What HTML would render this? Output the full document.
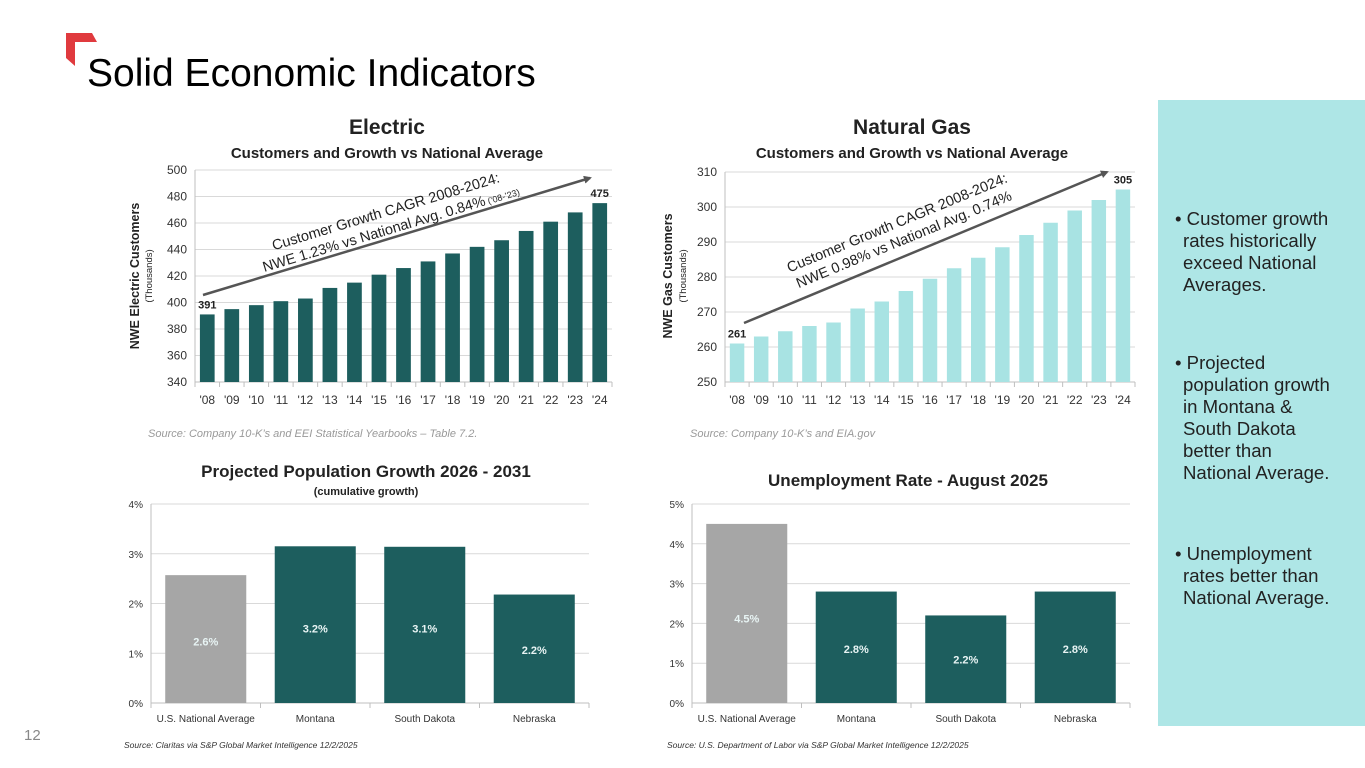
<!DOCTYPE html>
<html><head><meta charset="utf-8"><style>
html,body{margin:0;padding:0;background:#fff;}
svg{display:block;font-family:"Liberation Sans",sans-serif;}
</style></head><body>
<svg id="s" width="1365" height="768" viewBox="0 0 1365 768">
<polygon points="66,33 92,33 97,42 75,42 75,66 66,58" fill="#e03a3e"/>
<text x="87" y="86" font-size="39" fill="#000">Solid Economic Indicators</text>
<rect x="1158" y="100" width="207" height="626" fill="#aee6e6"/>
<g font-size="18.6" fill="#222">
<text x="1175" y="225"><tspan x="1175">• Customer growth</tspan><tspan x="1183" dy="22">rates historically</tspan><tspan x="1183" dy="22">exceed National</tspan><tspan x="1183" dy="22">Averages.</tspan></text>
<text x="1175" y="369"><tspan x="1175">• Projected</tspan><tspan x="1183" dy="22">population growth</tspan><tspan x="1183" dy="22">in Montana &amp;</tspan><tspan x="1183" dy="22">South Dakota</tspan><tspan x="1183" dy="22">better than</tspan><tspan x="1183" dy="22">National Average.</tspan></text>
<text x="1175" y="560"><tspan x="1175">• Unemployment</tspan><tspan x="1183" dy="22">rates better than</tspan><tspan x="1183" dy="22">National Average.</tspan></text>
</g>
<text x="24" y="740" font-size="15" fill="#888">12</text>
<g font-family="Liberation Sans" font-weight="bold" fill="#222">
<text x="387" y="134" font-size="21" text-anchor="middle">Electric</text>
<text x="387" y="158" font-size="15" text-anchor="middle">Customers and Growth vs National Average</text>
<text x="912" y="134" font-size="21" text-anchor="middle">Natural Gas</text>
<text x="912" y="158" font-size="15" text-anchor="middle">Customers and Growth vs National Average</text>
<text x="366" y="477" font-size="17" text-anchor="middle">Projected Population Growth 2026 - 2031</text>
<text x="366" y="495" font-size="11" text-anchor="middle">(cumulative growth)</text>
<text x="908" y="486" font-size="17" text-anchor="middle">Unemployment Rate - August 2025</text>
</g>
<g font-style="italic" fill="#999">
<text x="148" y="437" font-size="11">Source: Company 10-K’s and EEI Statistical Yearbooks – Table 7.2.</text>
<text x="690" y="437" font-size="11">Source: Company 10-K’s and EIA.gov</text>
<text x="124" y="748" font-size="8.5" fill="#333">Source: Claritas via S&amp;P Global Market Intelligence 12/2/2025</text>
<text x="667" y="748" font-size="8.5" fill="#333">Source: U.S. Department of Labor via S&amp;P Global Market Intelligence 12/2/2025</text>
</g>
<g id="charts"></g>
</svg>
<script>
const years = ["'08","'09","'10","'11","'12","'13","'14","'15","'16","'17","'18","'19","'20","'21","'22","'23","'24"];
const electricValues = [391,395,398,401,403,411,415,421,426,431,437,442,447,454,461,468,475];
const electricTicks = [340,360,380,400,420,440,460,480,500];
const gasValues = [261,263,264.5,266,267,271,273,276,279.5,282.5,285.5,288.5,292,295.5,299,302,305];
const gasTicks = [250,260,270,280,290,300,310];
const states = ["U.S. National Average","Montana","South Dakota","Nebraska"];
const populationValues = [2.57,3.15,3.14,2.18];
const populationLabels = ["2.6%","3.2%","3.1%","2.2%"];
const populationTicks = [0,1,2,3,4];
const unemploymentValues = [4.5,2.8,2.2,2.8];
const unemploymentLabels = ["4.5%","2.8%","2.2%","2.8%"];
const unemploymentTicks = [0,1,2,3,4,5];

const NS="http://www.w3.org/2000/svg";
const root=document.getElementById('charts');
function mk(tag,attrs,parent,txt){const e=document.createElementNS(NS,tag);for(const k in attrs)e.setAttribute(k,attrs[k]);if(txt!==undefined)e.textContent=txt;(parent||root).appendChild(e);return e;}

function barChart(o){
  const g=mk('g',{});
  
  
  const n=o.cats.length, lo=o.ticks[0], hi=o.ticks[o.ticks.length-1];
  const y=v=>o.y0-(v-lo)/(hi-lo)*(o.y0-o.y1);
  const bw=(o.x1-o.x0)/n;
  const x=i=>o.x0+bw*(i+0.5);
  o.ticks.forEach(t=>{
    const gl=mk('line',{x1:o.x0,x2:o.x1,y1:y(t),y2:y(t),stroke:'#d9d9d9','stroke-width':1},g);
    
    
    const tl=mk('text',{x:o.x0-8,y:y(t)+4,'font-size':o.tfs,'text-anchor':'end',fill:'#333'},g,o.fmt(t));
    
    
  });
  mk('line',{x1:o.x0,x2:o.x0,y1:o.y1,y2:o.y0,stroke:'#bfbfbf'},g);
  mk('line',{x1:o.x0,x2:o.x1,y1:o.y0,y2:o.y0,stroke:'#bfbfbf'},g);
  o.vals.forEach((v,i)=>{
    const w=bw*o.frac;
    const r=mk('rect',{x:x(i)-w/2,y:y(v),width:w,height:o.y0-y(v),fill:o.colors?o.colors[i]:o.color},g);
    
    
    mk('line',{x1:o.x0+bw*i,x2:o.x0+bw*i,y1:o.y0,y2:o.y0+5,stroke:'#bfbfbf'},g);
    const cl=mk('text',{x:x(i),y:o.y0+o.cdy,'font-size':o.cfs,'text-anchor':'middle',fill:'#333'},g,o.cats[i]);
    
    
    if(o.inLabels){
      const vl=mk('text',{x:x(i),y:y(v)+(o.y0-y(v))*0.55,'font-size':11,'font-weight':'bold','text-anchor':'middle',fill:o.inLabelColor},g,o.inLabels[i]);
      
      
    }
  });
  mk('line',{x1:o.x1,x2:o.x1,y1:o.y0,y2:o.y0+5,stroke:'#bfbfbf'},g);
  if(o.ends){
    [0,n-1].forEach(i=>{
      const el=mk('text',{x:x(i),y:y(o.vals[i])-6,'font-size':11,'font-weight':'bold','text-anchor':'middle',fill:'#222'},g,String(o.vals[i]));
      
      
    });
  }
  return {g,x,y};
}

barChart({name:'electric-chart',cats:years,vals:electricValues,ticks:electricTicks,x0:195,x1:612,y0:382,y1:170,frac:0.6,color:'#1d5e5e',fmt:t=>t,tfs:12,cfs:12,cdy:22,ends:true});
barChart({name:'gas-chart',cats:years,vals:gasValues,ticks:gasTicks,x0:725,x1:1135,y0:382,y1:172,frac:0.6,color:'#a8e3e3',fmt:t=>t,tfs:12,cfs:12,cdy:22,ends:true});
barChart({name:'population-chart',cats:states,vals:populationValues,ticks:populationTicks,x0:151,x1:589,y0:703,y1:504,frac:0.74,colors:['#a6a6a6','#1d5e5e','#1d5e5e','#1d5e5e'],fmt:t=>t+'%',tfs:10,cfs:10,cdy:19,inLabels:populationLabels,inLabelColor:'#e8f4f4'});
barChart({name:'unemployment-chart',cats:states,vals:unemploymentValues,ticks:unemploymentTicks,x0:692,x1:1130,y0:703,y1:504,frac:0.74,colors:['#a6a6a6','#1d5e5e','#1d5e5e','#1d5e5e'],fmt:t=>t+'%',tfs:10,cfs:10,cdy:19,inLabels:unemploymentLabels,inLabelColor:'#e8f4f4'});

const defs=mk('defs',{});
const m=mk('marker',{id:'ah',markerWidth:8,markerHeight:8,refX:6,refY:4,orient:'auto',markerUnits:'userSpaceOnUse'},defs);
mk('path',{d:'M0,0 L8,4 L0,8 z',fill:'#555'},m);
const a1=mk('line',{x1:203,y1:295,x2:590,y2:178,stroke:'#555','stroke-width':2.5,'marker-end':'url(#ah)'});


const a2=mk('line',{x1:744,y1:323,x2:1107,y2:172,stroke:'#555','stroke-width':2.5,'marker-end':'url(#ah)'});


const t1=mk('text',{transform:'translate(388,219) rotate(-16.8)','font-size':14.5,'text-anchor':'middle',fill:'#222'});


mk('tspan',{x:0,y:-3},t1,'Customer Growth CAGR 2008-2024:');
mk('tspan',{x:0,y:15},t1,'NWE 1.23% vs National Avg. 0.84%');
mk('tspan',{'font-size':9},t1,' (’08-’23)');
const t2=mk('text',{transform:'translate(900,230) rotate(-22.5)','font-size':14.5,'text-anchor':'middle',fill:'#222'});


mk('tspan',{x:0,y:-3},t2,'Customer Growth CAGR 2008-2024:');
mk('tspan',{x:0,y:15},t2,'NWE 0.98% vs National Avg. 0.74%');
const yt1=mk('text',{transform:'translate(139,276) rotate(-90)','font-size':12.5,'font-weight':'bold','text-anchor':'middle',fill:'#222'},root,'NWE Electric Customers');


const ys1=mk('text',{transform:'translate(152,276) rotate(-90)','font-size':9.5,'text-anchor':'middle',fill:'#222'},root,'(Thousands)');


const yt2=mk('text',{transform:'translate(672,276) rotate(-90)','font-size':12.5,'font-weight':'bold','text-anchor':'middle',fill:'#222'},root,'NWE Gas Customers');


const ys2=mk('text',{transform:'translate(686,276) rotate(-90)','font-size':9.5,'text-anchor':'middle',fill:'#222'},root,'(Thousands)');


</script>
</body></html>
